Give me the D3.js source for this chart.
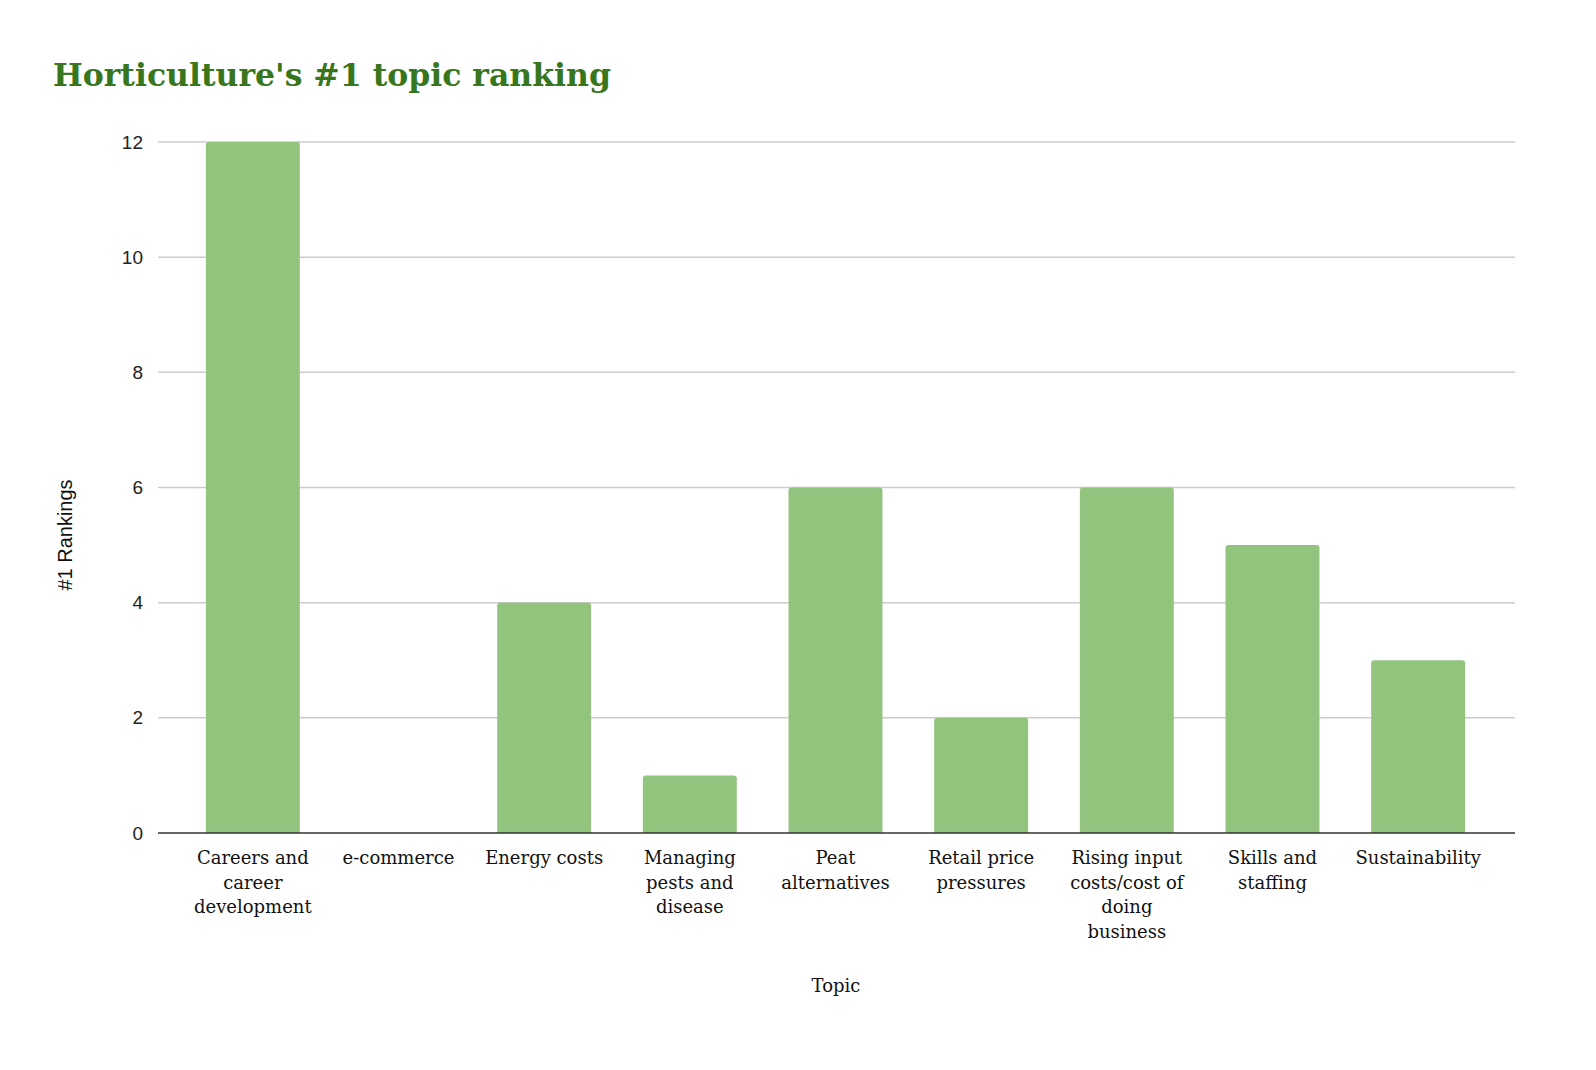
<!DOCTYPE html>
<html lang="en">
<head>
  <meta charset="UTF-8">
  <title>Horticulture's #1 topic ranking</title>
  <script src="https://d3js.org/d3.v7.min.js"></script>
  <style>
    html, body { margin: 0; padding: 0; background: #fff; overflow: hidden; }
    svg { display: block; }
    .serif { font-family: Georgia, "DejaVu Serif", serif; }
    .sans { font-family: Arial, "Liberation Sans", sans-serif; }
  </style>
</head>
<body>
  <svg width="1596" height="1070"></svg>
  <script>
    // Chart data
    const categories = ["Careers and career development", "e-commerce", "Energy costs",
                        "Managing pests and disease", "Peat alternatives", "Retail price pressures",
                        "Rising input costs/cost of doing business", "Skills and staffing", "Sustainability"];
    const values = [12, 0, 4, 1, 6, 2, 6, 5, 3];
    const tickLabels = [
      ["Careers and", "career", "development"],
      ["e-commerce"],
      ["Energy costs"],
      ["Managing", "pests and", "disease"],
      ["Peat", "alternatives"],
      ["Retail price", "pressures"],
      ["Rising input", "costs/cost of", "doing", "business"],
      ["Skills and", "staffing"],
      ["Sustainability"]
    ];
    const yTicks = [0, 2, 4, 6, 8, 10, 12];

    const svg = d3.select("svg");
    const plotLeft = 158, plotRight = 1515, plotTop = 142, plotBottom = 833;

    const x = d3.scaleBand()
                .domain(categories)
                .range([180, 1491])
                .paddingInner(0.355)
                .paddingOuter(0.1775);

    const y = d3.scaleLinear()
                .domain([0, 12])
                .range([plotBottom, plotTop]);

    // Title
    svg.append("text")
       .attr("class", "serif")
       .attr("x", 53)
       .attr("y", 86)
       .attr("fill", "#38761d")
       .style("font-size", "31.5px")
       .style("font-weight", "bold")
       .text("Horticulture's #1 topic ranking");

    // Gridlines
    svg.append("g")
       .selectAll("line")
       .data(yTicks.filter(d => d !== 0))
       .enter()
       .append("line")
       .attr("x1", plotLeft)
       .attr("x2", plotRight)
       .attr("y1", d => y(d))
       .attr("y2", d => y(d))
       .attr("stroke", "#cccccc")
       .attr("stroke-width", 1.5);

    // Y tick labels
    svg.append("g")
       .selectAll("text")
       .data(yTicks)
       .enter()
       .append("text")
       .attr("class", "sans")
       .attr("x", 143)
       .attr("y", d => y(d))
       .attr("dy", "0.35em")
       .attr("text-anchor", "end")
       .attr("fill", "#222")
       .style("font-size", "19px")
       .text(d => d);

    // Bars with slightly rounded tops
    const r = 3;
    svg.append("g")
       .selectAll("path")
       .data(values.map((v, i) => ({ cat: categories[i], v })))
       .enter()
       .filter(d => d.v > 0)
       .append("path")
       .attr("fill", "#93c47d")
       .attr("d", d => {
         const x0 = x(d.cat), x1 = x0 + x.bandwidth();
         const y0 = y(d.v), yb = y(0);
         return `M${x0},${yb}V${y0 + r}Q${x0},${y0} ${x0 + r},${y0}H${x1 - r}Q${x1},${y0} ${x1},${y0 + r}V${yb}Z`;
       });

    // Baseline
    svg.append("line")
       .attr("x1", plotLeft)
       .attr("x2", plotRight)
       .attr("y1", y(0))
       .attr("y2", y(0))
       .attr("stroke", "#333333")
       .attr("stroke-width", 1.5);

    // X tick labels
    const xl = svg.append("g")
                  .selectAll("text")
                  .data(categories)
                  .enter()
                  .append("text")
                  .attr("class", "serif")
                  .attr("text-anchor", "middle")
                  .attr("fill", "#111")
                  .style("font-size", "18px");
    xl.each(function(d, i) {
      const t = d3.select(this);
      tickLabels[i].forEach((line, j) => {
        t.append("tspan")
         .attr("x", x(d) + x.bandwidth() / 2)
         .attr("y", 864 + j * 24.5)
         .text(line);
      });
    });

    // Axis titles
    svg.append("text")
       .attr("class", "serif")
       .attr("x", 836)
       .attr("y", 992)
       .attr("text-anchor", "middle")
       .attr("fill", "#111")
       .style("font-size", "18px")
       .text("Topic");

    svg.append("text")
       .attr("class", "sans")
       .attr("transform", "translate(72,535) rotate(-90)")
       .attr("text-anchor", "middle")
       .attr("fill", "#111")
       .style("font-size", "20px")
       .text("#1 Rankings");
  </script>
</body>
</html>
